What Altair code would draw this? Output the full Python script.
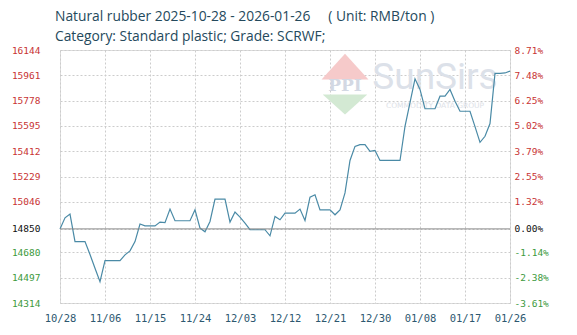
import altair as alt
import pandas as pd

# ---- data ----
start_date = "2025-10-28"
prices = [
    14850, 14930, 14957, 14758, 14758, 14758, 14665, 14565, 14468, 14621,
    14621, 14621, 14621, 14662, 14691, 14758, 14885, 14872, 14872, 14872,
    14899, 14895, 14993, 14909, 14909, 14909, 14909, 14988, 14856, 14829,
    14904, 15066, 15066, 15066, 14899, 14972, 14935, 14892, 14844, 14844,
    14844, 14844, 14800, 14940, 14916, 14964, 14964, 14964, 14993, 14911,
    15080, 15097, 14988, 14988, 14988, 14952, 14988, 15110, 15345, 15447,
    15460, 15460, 15411, 15418, 15345, 15345, 15345, 15345, 15345, 15592,
    15764, 15936, 15859, 15719, 15719, 15719, 15810, 15810, 15859, 15774,
    15701, 15701, 15701, 15590, 15476, 15520, 15612, 15975, 15975, 15978,
    15991,
]
base_price = 14850
y_ticks = [16144, 15961, 15778, 15595, 15412, 15229, 15046, 14850, 14680, 14497, 14314]
pct_labels = ["8.71%", "7.48%", "6.25%", "5.02%", "3.79%", "2.55%", "1.32%",
              "0.00%", "-1.14%", "-2.38%", "-3.61%"]
x_ticks = ["2025-10-28", "2025-11-06", "2025-11-15", "2025-11-24", "2025-12-03",
           "2025-12-12", "2025-12-21", "2025-12-30", "2026-01-08", "2026-01-17",
           "2026-01-26"]
title_lines = ["Natural rubber 2025-10-28 - 2026-01-26 \u00a0\u00a0\u00a0\u00a0( Unit: RMB/ton )",
               "Category: Standard plastic; Grade: SCRWF;"]

dates = pd.date_range(start_date, periods=len(prices), freq="D").strftime("%Y-%m-%d").tolist()
df = pd.DataFrame({"date": dates, "price": prices})


def dt(s):
    y, m, d = (int(p) for p in s.split("-"))
    return alt.DateTime(year=y, month=m, date=d, utc=True)


x_scale = alt.Scale(type="utc", domain=[dt(x_ticks[0]), dt(x_ticks[-1])])
y_scale = alt.Scale(domain=[min(y_ticks), max(y_ticks)], nice=False, zero=False)

label_font = "DejaVu Sans Mono"
color_expr = (f"datum.value > {base_price} ? '#c83434' : "
              f"(datum.value < {base_price} ? '#3d9a3d' : '#111111')")

x_enc = alt.X("date:T", scale=x_scale, title=None,
              axis=alt.Axis(values=[dt(s) for s in x_ticks],
                            labelExpr="utcFormat(datum.value, '%m/%d')",
                            labelFont=label_font, labelFontSize=10.5,
                            labelColor="#2d5870", ticks=False, domain=False,
                            labelPadding=10, grid=True, gridDash=[2, 2],
                            gridColor="#cccccc", labelFlush=False))

line = alt.Chart(df).mark_line(color="#4a8aa6", strokeWidth=1.2).encode(
    x=x_enc,
    y=alt.Y("price:Q", scale=y_scale, title=None,
            axis=alt.Axis(orient="left", values=y_ticks, format="d", labelFont=label_font,
                          labelFontSize=9.5, labelColor={"expr": color_expr},
                          ticks=False, domain=False, labelPadding=20, grid=True,
                          gridDash=[2, 2], gridColor="#cccccc")),
)

label_lookup = ("[" + ",".join(f"'{s}'" for s in pct_labels) + "][indexof(["
                + ",".join(str(v) for v in y_ticks) + "], datum.value)]")

base_rule = alt.Chart(pd.DataFrame({"price": [base_price]})).mark_rule(
    color="#8a8a8a", strokeWidth=1).encode(
    y=alt.Y("price:Q", scale=y_scale, title=None,
            axis=alt.Axis(orient="right", values=y_ticks, labelExpr=label_lookup,
                          labelFont=label_font, labelFontSize=9.5,
                          labelColor={"expr": color_expr}, ticks=False, domain=False,
                          labelPadding=4, grid=False)),
)

# ---- faint watermark ----
wm = pd.DataFrame({"date": ["2026-01-11"], "price": [15860], "t": ["SunSirs"]})
wm_text = alt.Chart(wm).mark_text(fontSize=37, font="Roboto", color="#dce1e9",
                                  baseline="alphabetic").encode(
    x=alt.X("date:T", scale=x_scale), y=alt.Y("price:Q", scale=y_scale, axis=None), text="t:N")
wm2 = pd.DataFrame({"date": ["2026-01-11"], "price": [15738], "t": ["COMMODITY DATA GROUP"]})
wm_text2 = alt.Chart(wm2).mark_text(fontSize=7.5, font="DejaVu Sans", color="#dde1e7",
                                    baseline="middle").encode(
    x=alt.X("date:T", scale=x_scale), y=alt.Y("price:Q", scale=y_scale, axis=None), text="t:N")
logo = pd.DataFrame({"date": ["2025-12-24", "2025-12-24"], "price": [15930, 15822],
                     "part": ["top", "bottom"]})
logo_top = alt.Chart(logo).transform_filter("datum.part == 'top'").mark_point(
    shape="M-1,0L0,-1.1L1,0Z", filled=True, color="#f6caca", opacity=1, size=2200,
    strokeWidth=0).encode(x=alt.X("date:T", scale=x_scale), y=alt.Y("price:Q", scale=y_scale, axis=None))
logo_bot = alt.Chart(logo).transform_filter("datum.part == 'bottom'").mark_point(
    shape="M-0.95,0L0,0.85L0.95,0Z", filled=True, color="#d3e9d3", opacity=1, size=2200,
    strokeWidth=0).encode(x=alt.X("date:T", scale=x_scale), y=alt.Y("price:Q", scale=y_scale, axis=None))
ppi = pd.DataFrame({"date": ["2025-12-24"], "price": [15880], "t": ["PPI"]})
logo_txt = alt.Chart(ppi).mark_text(fontSize=17, font="DejaVu Serif", fontWeight="bold",
                                    color="#d3d8e3", baseline="middle").encode(
    x=alt.X("date:T", scale=x_scale), y=alt.Y("price:Q", scale=y_scale, axis=None), text="t:N")

chart = alt.layer(logo_top, logo_bot, logo_txt, wm_text, wm_text2, line, base_rule).resolve_axis(
    y="independent"
).properties(
    width=450,
    height=253,
    autosize=alt.AutoSizeParams(type="none"),
    padding={"left": 60, "top": 50, "right": 67, "bottom": 32},
    title=alt.TitleParams(text=title_lines, anchor="start", frame="group", dx=-5,
                          offset=1, fontSize=13.8, font="Open Sans", fontWeight="normal",
                          color="#24495c", lineHeight=20),
).configure_view(stroke="#8e8e8e", strokeWidth=1).configure(background="white")

chart.save("out.html", embed_options={"renderer": "svg", "actions": False})
